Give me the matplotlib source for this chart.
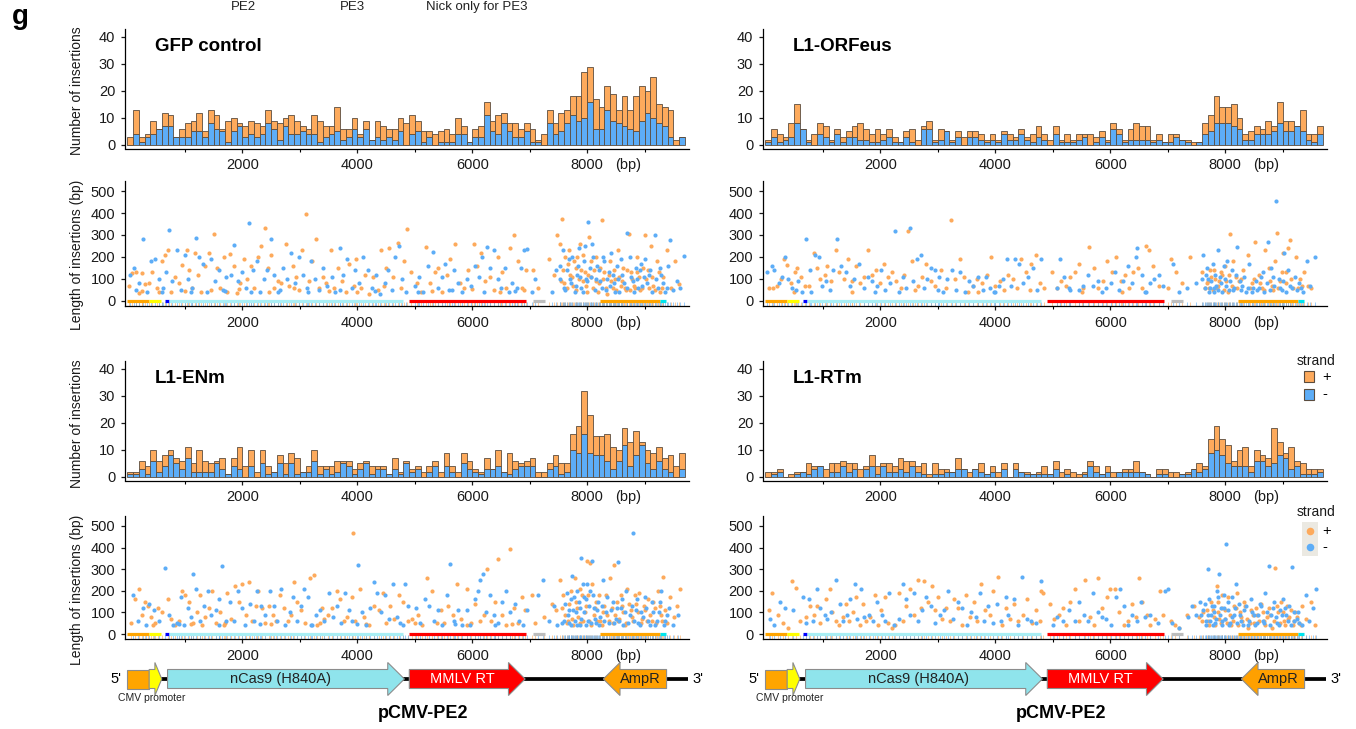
import numpy as np
import matplotlib.pyplot as plt
from matplotlib.patches import Polygon, Rectangle

plt.rcParams['font.family'] = ['Liberation Sans', 'DejaVu Sans']

W, H = 1356, 729

## 100bp bins, 0 ~ 9700
bin_left = np.arange(0, 9700, 100)

## insertion counts per bin (minus strand at the bottom, plus strand stacked on top)
gfp_minus = [0, 4, 1, 3, 4, 6, 7, 7, 3, 3,
             3, 5, 5, 3, 8, 6, 5, 1, 5, 7,
             3, 4, 3, 4, 8, 6, 2, 7, 4, 4,
             5, 4, 4, 1, 3, 4, 5, 2, 3, 6,
             3, 6, 2, 3, 2, 3, 2, 5, 0, 4,
             5, 1, 3, 0, 1, 1, 1, 4, 4, 1,
             3, 3, 11, 5, 4, 8, 5, 3, 3, 5,
             1, 1, 0, 8, 4, 5, 8, 11, 9, 10,
             16, 6, 6, 13, 9, 8, 7, 6, 5, 9,
             12, 10, 8, 7, 3, 0, 3]
gfp_plus = [3, 9, 2, 1, 5, 0, 5, 4, 0, 3,
            5, 4, 7, 2, 5, 5, 1, 8, 5, 1,
            4, 5, 5, 3, 5, 3, 6, 3, 7, 5,
            2, 2, 7, 8, 4, 3, 9, 4, 3, 4,
            1, 3, 0, 6, 5, 3, 4, 5, 8, 7,
            4, 4, 2, 4, 4, 5, 3, 6, 3, 0,
            3, 4, 5, 4, 7, 4, 3, 5, 3, 3,
            5, 1, 4, 5, 4, 7, 5, 7, 9, 17,
            13, 11, 8, 9, 10, 5, 11, 7, 13, 13,
            8, 15, 7, 7, 10, 2, 0]

orf_minus = [1, 3, 1, 2, 3, 8, 6, 1, 0, 4,
             3, 1, 4, 1, 3, 3, 2, 2, 1, 1,
             2, 3, 1, 1, 3, 1, 0, 6, 6, 1,
             2, 5, 1, 3, 0, 3, 3, 2, 1, 2,
             1, 4, 2, 2, 4, 2, 1, 3, 2, 0,
             4, 1, 1, 1, 2, 3, 0, 1, 3, 1,
             6, 4, 1, 2, 2, 2, 2, 1, 2, 1,
             1, 3, 2, 1, 0, 1, 4, 5, 8, 8,
             8, 7, 6, 2, 2, 4, 4, 4, 5, 8,
             5, 5, 7, 5, 2, 1, 4]
orf_plus = [1, 3, 3, 1, 5, 7, 0, 1, 4, 4,
            4, 1, 2, 2, 2, 4, 6, 4, 3, 5,
            2, 3, 2, 0, 2, 5, 2, 1, 3, 1,
            4, 0, 1, 2, 3, 2, 2, 2, 1, 2,
            1, 1, 2, 1, 2, 1, 3, 4, 2, 2,
            3, 1, 3, 1, 2, 1, 4, 2, 2, 1,
            2, 2, 1, 4, 6, 5, 5, 1, 2, 0,
            3, 1, 0, 1, 1, 0, 4, 6, 10, 6,
            6, 8, 4, 2, 3, 3, 2, 5, 2, 8,
            4, 4, 0, 8, 2, 3, 3]

enm_minus = [1, 1, 3, 1, 6, 2, 4, 8, 5, 3,
             7, 2, 2, 2, 2, 5, 3, 1, 4, 3,
             0, 4, 0, 5, 1, 2, 5, 1, 5, 1,
             2, 2, 6, 1, 3, 1, 2, 5, 4, 1,
             3, 5, 1, 3, 3, 1, 3, 1, 5, 2,
             3, 0, 2, 4, 0, 4, 2, 0, 5, 3,
             2, 1, 3, 3, 4, 2, 1, 3, 4, 4,
             4, 0, 0, 3, 4, 1, 2, 10, 9, 16,
             9, 8, 8, 6, 3, 6, 12, 4, 8, 12,
             5, 3, 6, 3, 2, 0, 3]
enm_plus = [1, 1, 3, 3, 4, 4, 4, 2, 2, 3,
            4, 3, 8, 4, 3, 1, 4, 0, 3, 8,
            4, 6, 2, 5, 3, 0, 3, 4, 4, 6,
            0, 2, 4, 3, 1, 3, 4, 1, 2, 2,
            2, 1, 3, 1, 1, 0, 4, 1, 1, 1,
            1, 2, 2, 2, 2, 5, 2, 2, 4, 3,
            1, 1, 4, 0, 6, 0, 8, 3, 1, 2,
            3, 2, 2, 2, 4, 4, 3, 6, 10, 16,
            14, 7, 7, 10, 8, 4, 6, 9, 9, 1,
            5, 6, 5, 4, 6, 4, 6]

rtm_minus = [0, 1, 2, 0, 0, 1, 2, 1, 3, 4,
             0, 2, 2, 4, 2, 3, 0, 3, 4, 1,
             4, 2, 2, 3, 2, 4, 2, 1, 0, 1,
             1, 2, 2, 3, 3, 0, 3, 2, 1, 2,
             0, 3, 0, 3, 2, 1, 1, 1, 1, 1,
             3, 0, 1, 0, 0, 1, 4, 2, 1, 2,
             0, 2, 2, 2, 2, 2, 1, 0, 1, 1,
             0, 0, 1, 1, 3, 2, 3, 9, 10, 8,
             5, 4, 4, 4, 2, 6, 6, 4, 5, 8,
             7, 3, 4, 1, 1, 1, 2]
rtm_plus = [2, 1, 1, 0, 1, 1, 0, 4, 1, 0,
            3, 3, 3, 2, 3, 2, 3, 1, 4, 3,
            1, 3, 2, 4, 4, 2, 2, 4, 1, 4,
            2, 1, 0, 4, 0, 2, 0, 3, 0, 2,
            2, 2, 0, 2, 0, 1, 0, 1, 3, 0,
            3, 2, 2, 2, 1, 1, 2, 2, 0, 2,
            2, 0, 1, 1, 4, 0, 0, 0, 2, 2,
            2, 2, 0, 1, 0, 3, 1, 5, 9, 6,
            7, 2, 6, 7, 2, 4, 2, 3, 13, 5,
            2, 8, 2, 4, 2, 2, 1]

## insertion position (bp) / insertion length (bp)
gfp_plus_pts = [(30,70),(90,125),(150,130),(200,35),(260,125),(310,75),(380,80),(430,130),(560,40),(600,180),
    (650,210),(700,230),(760,40),(830,110),(900,80),(950,165),(1030,230),(1080,140),(1130,60),(1180,220),
    (1230,120),(1290,40),(1350,160),(1420,220),(1500,305),(1560,150),(1610,60),(1680,200),(1730,40),(1790,215),
    (1850,160),(1900,35),(1960,80),(2030,190),(2090,100),(2150,160),(2210,60),(2280,200),(2330,250),(2390,333),
    (2440,150),(2500,210),(2560,60),(2620,90),(2680,80),(2760,260),(2820,70),(2880,160),(2940,110),(2980,50),
    (3040,230),(3100,395),(3160,90),(3220,180),(3290,280),(3330,60),(3400,110),(3460,80),(3540,230),(3600,60),
    (3660,150),(3740,90),(3800,40),(3860,170),(3940,70),(3980,190),(4060,60),(4140,120),(4200,30),(4280,110),
    (4360,50),(4420,230),(4500,150),(4560,240),(4620,110),(4700,265),(4760,60),(4820,180),(4870,328),(4930,130),
    (5040,80),(5100,40),(5200,245),(5260,80),(5350,130),(5410,150),(5480,40),(5560,120),(5620,190),(5700,260),
    (5780,80),(5850,60),(5930,140),(6030,260),(6090,160),(6150,220),(6230,90),(6300,110),(6380,50),(6440,200),
    (6520,130),(6590,60),(6660,240),(6720,298),(6790,180),(6860,60),(6930,140),(7060,140),(7150,60),(7330,190),
    (7420,120),(7480,300),(7520,260),(7560,375),(7600,80),(7660,170),(7700,120),(7760,70),(7800,150),(7830,200),
    (7880,260),(7920,90),(7960,130),(7990,40),(8030,290),(8070,110),(8100,60),(8150,200),(8210,80),(8250,368),
    (8300,130),(8350,30),(8400,180),(8440,60),(8480,100),(8530,230),(8580,70),(8630,150),(8680,50),(8720,305),
    (8760,130),(8810,70),(8860,200),(8900,110),(8950,60),(9010,300),(9060,140),(9110,250),(9150,70),(9210,180),
    (9260,40),(9320,110),(9380,230),(9450,60),(9530,180),(9600,75),
    (7540,90),(7580,140),(7620,200),(7650,60),(7690,230),(7730,110),(7770,180),(7810,50),(7850,100),(7890,140),
    (7930,210),(7970,70),(8010,120),(8060,180),(8110,140),(8160,90),(8190,40),(8230,150),(8280,100),(8330,60),
    (8380,120),(8420,90),(8460,140),(8500,50),(8550,110),(8600,90),(8650,60),(8700,140),(8740,50),(8780,100),
    (8830,60),(8870,130),(8920,50),(8970,150),(9030,100),(9080,60),(9130,110),(9180,50),(9240,130),(9300,60),
    (250,45),(520,60),(1000,45),(1450,50),(1950,55),(2460,40),(2900,60),(3500,45),(4000,40),(4460,70),
    (5300,45),(6000,55),(6480,40),(6900,50)]
gfp_minus_pts = [(40,120),(110,150),(200,80),(280,283),(340,40),(420,180),(480,190),(560,100),(620,60),(680,130),
    (720,322),(780,90),(860,230),(940,50),(1010,210),(1060,100),(1120,60),(1200,285),(1250,200),(1320,170),
    (1390,40),(1450,190),(1530,90),(1600,140),(1660,50),(1720,110),(1800,120),(1860,255),(1930,90),(2000,130),
    (2060,60),(2116,355),(2180,140),(2250,180),(2300,40),(2370,100),(2430,140),(2500,283),(2560,120),(2620,40),
    (2700,150),(2780,100),(2850,220),(2920,80),(2980,200),(3050,120),(3120,60),(3190,180),(3260,100),(3340,50),
    (3410,150),(3480,70),(3560,110),(3620,40),(3700,240),(3760,120),(3830,190),(3900,60),(3960,140),(4030,80),
    (4100,200),(4180,140),(4250,60),(4330,120),(4400,30),(4480,80),(4540,140),(4600,50),(4660,200),(4720,248),
    (4780,100),(4850,40),(5010,70),(5080,110),(5150,40),(5230,160),(5325,223),(5400,60),(5470,110),(5530,170),
    (5600,50),(5680,140),(5750,80),(5820,40),(5900,100),(5970,70),(6050,160),(6110,110),(6170,200),(6248,244),
    (6310,150),(6370,230),(6450,100),(6500,60),(6570,150),(6640,40),(6700,80),(6780,60),(6850,150),(6900,230),
    (6958,236),(7040,40),(7100,100),(7380,40),(7450,140),(7520,100),(7570,230),(7620,50),(7680,190),(7720,80),
    (7780,40),(7820,120),(7860,240),(7900,60),(7940,180),(7980,100),(8009,358),(8040,150),(8090,260),(8130,50),
    (8170,160),(8220,90),(8270,200),(8320,50),(8370,130),(8420,220),(8460,80),(8510,160),(8560,40),(8610,120),
    (8683,309),(8740,200),(8790,90),(8840,150),(8880,60),(8930,170),(8980,110),(9040,80),(9100,140),(9173,300),
    (9230,60),(9290,120),(9350,40),(9410,160),(9443,278),(9500,50),(9560,90),(9620,60),(9684,205),
    (7530,160),(7590,60),(7640,140),(7700,100),(7740,200),(7800,70),(7840,160),(7880,110),(7920,40),(7960,250),
    (8000,90),(8060,110),(8100,200),(8150,100),(8200,140),(8250,60),(8300,180),(8350,100),(8400,70),(8450,120),
    (8490,40),(8540,100),(8590,190),(8640,80),(8700,60),(8760,110),(8810,40),(8860,100),(8910,140),(8960,70),
    (9010,190),(9070,120),(9120,40),(9200,100),(9260,150),(9320,80),(9380,60),
    (150,50),(600,40),(1100,40),(1700,45),(2150,40),(2650,50),(3150,40),(3700,50),(4300,45),(5050,40),
    (5650,50),(6200,40),(6750,45)]

orf_plus_pts = [(60,60),(130,60),(200,70),(270,100),(320,190),(370,165),(440,80),(510,130),(560,150),(620,110),
    (690,70),(760,70),(850,220),(900,150),(960,100),(1030,120),(1080,160),(1150,90),(1230,230),(1290,130),
    (1370,100),(1440,190),(1510,90),(1580,160),(1650,80),(1710,110),(1780,230),(1850,120),(1920,140),(1990,80),
    (2060,170),(2130,110),(2200,130),(2280,90),(2360,60),(2420,120),(2490,320),(2560,180),(2650,70),(2730,110),
    (2800,170),(2880,90),(2960,70),(3050,140),(3150,60),(3227,369),(3300,100),(3380,190),(3450,110),(3530,40),
    (3610,70),(3690,100),(3770,80),(3860,120),(3930,200),(4000,70),(4080,90),(4150,50),(4220,120),(4300,100),
    (4380,60),(4450,190),(4530,130),(4620,170),(4700,210),(4770,80),(4850,60),(4990,130),(5070,60),(5150,90),
    (5230,70),(5300,110),(5380,130),(5450,170),(5530,60),(5630,245),(5710,150),(5790,60),(5870,90),(5950,180),
    (6030,130),(6100,200),(6180,90),(6260,120),(6330,60),(6400,130),(6480,150),(6550,60),(6620,250),(6680,230),
    (6750,160),(6850,70),(7010,60),(7060,190),(7150,130),(7250,80),(7380,200),(7600,130),(7680,80),(7720,60),
    (7760,110),(7800,140),(7850,60),(7900,90),(7950,120),(8000,160),(8050,40),(8090,305),(8140,180),(8180,110),
    (8240,90),(8310,140),(8390,210),(8460,80),(8520,270),(8580,120),(8640,60),(8700,230),(8760,150),(8810,70),
    (8860,180),(8900,310),(8950,90),(9000,220),(9060,130),(9100,240),(9130,275),(9180,60),(9230,200),(9300,100),
    (9370,130),(9440,70),(9500,60),
    (7640,60),(7700,90),(7740,140),(7790,50),(7830,100),(7870,70),(7920,130),(7970,50),(8020,90),(8070,120),
    (8120,70),(8200,60),(8280,100),(8430,60),(8500,100),(8600,80),(8680,50),(8780,90),(8830,50),(8920,60),
    (8980,130),(9050,80),(9150,100),(9260,60),(9340,70),
    (500,40),(1500,40),(2600,50),(3700,40),(4600,50),(5500,40),(6200,40)]
orf_minus_pts = [(30,130),(110,160),(160,140),(230,80),(290,110),(340,200),(400,100),(470,60),(530,50),(570,90),
    (630,40),(710,280),(780,140),(860,210),(930,200),(990,70),(1060,90),(1120,50),(1180,140),(1240,280),
    (1320,160),(1400,130),(1480,70),(1550,100),(1630,170),(1710,60),(1790,110),(1860,90),(1940,70),(2010,140),
    (2080,50),(2170,80),(2250,318),(2330,40),(2400,110),(2450,60),(2513,334),(2570,90),(2630,190),(2700,210),
    (2760,60),(2820,100),(2880,150),(2950,140),(3020,110),(3090,40),(3160,100),(3250,140),(3320,50),(3390,130),
    (3470,40),(3550,90),(3620,70),(3700,110),(3780,50),(3840,110),(3910,60),(3980,40),(4060,70),(4140,100),
    (4210,190),(4270,70),(4340,190),(4420,170),(4490,80),(4570,110),(4650,150),(4730,50),(4800,190),(5070,60),
    (5120,190),(5200,110),(5280,60),(5450,50),(5520,70),(5610,120),(5700,70),(5780,90),(5850,40),(5930,60),
    (6010,80),(6080,130),(6150,50),(6230,90),(6300,160),(6370,80),(6440,200),(6470,243),(6550,120),(6630,40),
    (6700,80),(6760,100),(6850,120),(6920,70),(7100,170),(7200,40),(7330,60),(7500,80),(7620,210),(7660,120),
    (7700,100),(7740,60),(7780,170),(7810,40),(7840,70),(7870,230),(7910,110),(7950,40),(7990,100),(8030,180),
    (8060,50),(8110,140),(8160,60),(8210,245),(8250,90),(8300,70),(8360,40),(8420,170),(8490,60),(8560,50),
    (8620,110),(8680,40),(8740,270),(8800,150),(8850,70),(8887,455),(8930,100),(8980,50),(9030,220),(9090,140),
    (9160,60),(9210,110),(9280,80),(9350,40),(9420,180),(9480,70),(9560,200),
    (7600,100),(7650,60),(7690,150),(7720,40),(7760,90),(7800,60),(7830,120),(7880,50),(7930,80),(7970,160),
    (8010,70),(8080,90),(8130,50),(8190,120),(8270,50),(8330,110),(8400,60),(8460,40),(8530,90),(8590,60),
    (8660,130),(8720,80),(8780,50),(8830,110),(8950,60),(9000,90),(9060,40),(9130,70),(9250,50),(9310,60),
    (800,40),(1900,40),(3000,50),(4000,40),(5300,50),(6600,40)]

enm_plus_pts = [(60,50),(130,160),(200,210),(260,90),(300,150),(360,130),(420,80),(480,50),(530,120),(600,100),
    (700,160),(760,70),(830,40),(900,60),(950,200),(1010,180),(1080,150),(1150,50),(1220,100),(1260,180),
    (1300,40),(1360,80),(1420,120),(1480,200),(1550,50),(1620,100),(1680,40),(1740,190),(1800,70),(1880,220),
    (1940,150),(2000,230),(2060,90),(2110,240),(2170,60),(2230,130),(2280,200),(2340,120),(2400,50),(2470,130),
    (2530,90),(2590,60),(2650,180),(2720,120),(2790,60),(2850,90),(2900,240),(2960,150),(3020,110),(3090,50),
    (3170,260),(3240,275),(3300,40),(3380,120),(3430,70),(3490,90),(3560,120),(3640,200),(3700,160),(3770,60),
    (3830,80),(3900,170),(3920,468),(3960,60),(4050,210),(4120,80),(4200,40),(4290,130),(4370,110),(4440,190),
    (4500,50),(4570,130),(4640,70),(4730,180),(4800,150),(4880,60),(4960,70),(5050,90),(5130,40),(5220,260),
    (5300,200),(5380,50),(5450,110),(5510,50),(5580,130),(5660,90),(5730,230),(5810,70),(5900,210),(5980,50),
    (6050,140),(6130,60),(6200,90),(6250,300),(6320,60),(6400,150),(6453,346),(6520,90),(6580,40),(6653,394),
    (6720,120),(6790,50),(6860,170),(6910,110),(7040,180),(7100,50),(7250,80),(7380,140),(7460,110),(7520,250),
    (7580,180),(7640,50),(7690,140),(7730,70),(7780,260),(7830,120),(7870,50),(7910,180),(7960,100),(8000,340),
    (8030,60),(8050,330),(8090,230),(8130,120),(8170,60),(8210,180),(8260,40),(8300,130),(8350,90),(8400,260),
    (8440,50),(8470,320),(8510,150),(8550,70),(8600,130),(8650,40),(8700,210),(8760,110),(8800,60),(8850,140),
    (8900,190),(8950,70),(9000,110),(9060,160),(9120,60),(9180,120),(9230,200),(9280,90),(9320,262),(9380,50),
    (9440,170),(9510,80),(9560,130),(9620,210),
    (7560,120),(7620,90),(7670,60),(7710,200),(7750,40),(7800,150),(7840,80),(7880,210),(7930,60),(7980,130),
    (8020,180),(8070,40),(8110,90),(8160,150),(8230,60),(8280,100),(8330,180),(8380,60),(8430,120),(8490,90),
    (8540,60),(8580,180),(8630,100),(8680,50),(8730,140),(8780,80),(8830,180),(8880,100),(8930,50),(8980,130),
    (9040,60),(9100,90),(9150,150),(9200,50),(9260,130),(9300,60),(9360,110),
    (450,40),(1100,45),(1700,50),(2500,45),(3350,50),(4150,45),(5000,50),(5900,40),(6700,45)]
enm_minus_pts = [(100,180),(190,60),(280,120),(380,140),(470,110),(560,60),(660,305),(720,90),(790,40),(860,50),
    (930,170),(980,40),(1050,120),(1110,80),(1150,280),(1200,210),(1270,60),(1330,130),(1400,200),(1460,90),
    (1540,110),(1600,160),(1647,313),(1710,60),(1780,150),(1850,60),(1920,200),(1990,120),(2050,40),(2130,140),
    (2200,60),(2260,200),(2330,130),(2400,90),(2480,200),(2550,130),(2600,60),(2680,210),(2750,40),(2830,100),
    (2880,170),(2950,60),(3020,130),(3080,210),(3150,170),(3220,40),(3290,90),(3360,110),(3430,60),(3500,190),
    (3570,80),(3640,130),(3710,50),(3780,190),(3850,110),(3910,60),(4020,321),(4080,100),(4150,40),(4230,120),
    (4290,240),(4350,190),(4420,100),(4490,180),(4560,70),(4620,230),(4690,80),(4750,50),(4830,230),(4880,130),
    (5020,120),(5090,50),(5170,160),(5250,130),(5330,60),(5400,110),(5480,40),(5560,180),(5620,322),(5680,60),
    (5750,110),(5830,40),(5900,110),(5960,40),(6040,160),(6100,200),(6130,250),(6180,280),(6240,100),(6300,180),
    (6380,90),(6450,50),(6520,150),(6590,200),(6660,100),(6740,140),(6820,60),(6880,40),(6950,110),(7150,180),
    (7230,250),(7330,60),(7420,130),(7480,40),(7560,50),(7620,140),(7660,90),(7690,50),(7720,160),(7740,270),
    (7760,110),(7790,60),(7820,200),(7850,150),(7880,40),(7900,350),(7920,230),(7950,100),(7980,160),(8010,60),
    (8040,200),(8080,340),(8110,120),(8150,50),(8190,150),(8230,80),(8280,250),(8330,100),(8380,50),(8440,150),
    (8500,70),(8540,333),(8580,120),(8620,40),(8680,200),(8740,90),(8800,468),(8840,110),(8880,50),(8940,100),
    (9000,170),(9060,60),(9120,150),(9180,40),(9240,100),(9290,200),(9350,60),(9420,120),(9500,40),(9580,90),
    (7600,60),(7640,190),(7680,110),(7710,40),(7770,170),(7800,100),(7830,40),(7870,120),(7900,70),(7940,170),
    (7970,40),(8000,230),(8030,130),(8060,50),(8100,180),(8130,70),(8170,110),(8210,40),(8250,130),(8300,60),
    (8350,170),(8410,110),(8460,50),(8520,120),(8560,60),(8600,160),(8650,100),(8710,50),(8770,130),(8820,60),
    (8860,160),(8910,40),(8970,80),(9030,120),(9090,40),(9150,100),(9210,60),(9270,150),(9330,40),(9390,90),
    (320,40),(900,45),(1600,40),(2300,45),(3200,40),(4000,45),(4800,40),(5700,45),(6400,40)]

rtm_plus_pts = [(60,110),(120,190),(220,90),(300,50),(400,30),(460,246),(540,215),(600,60),(700,80),(780,130),
    (840,90),(900,130),(960,50),(1050,160),(1120,210),(1160,100),(1230,60),(1290,40),(1350,80),(1400,140),
    (1460,60),(1530,100),(1580,170),(1640,40),(1700,140),(1760,60),(1820,80),(1900,180),(1960,40),(2020,110),
    (2090,170),(2140,50),(2200,30),(2260,40),(2330,190),(2390,60),(2450,130),(2520,210),(2590,90),(2650,250),
    (2700,120),(2760,245),(2830,150),(2900,220),(2950,110),(3010,170),(3080,70),(3150,120),(3220,60),(3290,160),
    (3350,120),(3420,40),(3490,180),(3560,80),(3630,150),(3690,60),(3760,230),(3830,110),(3900,90),(3960,200),
    (4053,266),(4110,40),(4180,120),(4250,70),(4330,140),(4400,60),(4480,90),(4560,160),(4640,50),(4700,110),
    (4780,60),(4800,200),(4830,190),(4960,140),(5020,70),(5100,90),(5170,120),(5230,40),(5300,150),(5390,210),
    (5460,60),(5560,250),(5640,80),(5720,40),(5780,260),(5860,120),(5940,170),(6000,210),(6080,210),(6160,100),
    (6240,40),(6300,60),(6380,140),(6450,80),(6500,260),(6560,150),(6640,90),(6700,40),(6780,70),(6860,200),
    (6920,90),(7050,60),(7130,40),(7200,30),(7330,90),(7460,130),(7540,80),(7600,60),(7680,110),(7720,40),
    (7760,150),(7800,80),(7850,220),(7880,100),(7920,50),(7950,120),(8000,70),(8050,170),(8100,40),(8150,130),
    (8200,190),(8260,100),(8300,60),(8350,130),(8400,30),(8450,110),(8500,50),(8560,90),(8620,140),(8680,60),
    (8720,80),(8760,120),(8820,30),(8870,305),(8920,100),(8970,150),(9020,60),(9070,130),(9110,80),(9170,40),
    (9220,100),(9280,50),(9340,130),(9400,70),(9500,150),(9560,40),
    (7620,100),(7700,60),(7780,110),(7830,40),(7870,150),(7900,70),(7940,180),(7990,110),(8030,50),(8080,90),
    (8130,60),(8180,120),(8230,40),(8280,80),(8320,150),(8380,70),(8430,50),(8480,90),(8530,120),(8580,60),
    (8650,100),(8700,40),(8780,90),(8840,60),(8900,130),(8950,50),(9000,100),(9040,40),(9090,70),(9150,110),
    (9200,60),(9250,80),(9310,40)]
rtm_minus_pts = [(80,70),(160,40),(260,150),(350,120),(480,110),(650,170),(700,50),(760,160),(830,60),(900,210),
    (960,120),(1030,90),(1080,70),(1150,100),(1230,250),(1300,140),(1350,60),(1420,90),(1480,160),(1560,230),
    (1600,70),(1660,210),(1720,80),(1800,90),(1880,60),(1950,150),(2030,90),(2080,60),(2160,190),(2240,40),
    (2330,70),(2400,230),(2440,160),(2510,90),(2580,190),(2660,60),(2720,110),(2800,170),(2880,130),(2950,50),
    (3030,90),(3100,110),(3180,200),(3260,70),(3350,150),(3420,120),(3500,40),(3570,100),(3660,80),(3740,190),
    (3810,60),(3880,130),(3960,50),(4030,140),(4100,60),(4180,170),(4230,90),(4320,160),(4400,40),(4467,262),
    (4550,70),(4620,60),(4700,50),(4787,246),(5010,40),(5080,80),(5170,60),(5290,110),(5380,60),(5460,150),
    (5540,90),(5620,60),(5700,190),(5780,100),(5850,80),(5930,70),(6010,40),(6100,170),(6170,210),(6240,130),
    (6310,40),(6380,90),(6460,60),(6540,150),(6610,80),(6700,90),(6830,50),(6960,200),(7000,210),(7080,50),
    (7200,30),(7350,80),(7420,130),(7500,90),(7560,150),(7620,110),(7660,60),(7693,300),(7720,160),(7750,90),
    (7780,40),(7810,130),(7840,70),(7860,200),(7893,277),(7920,120),(7950,60),(7980,180),(8020,418),(8050,110),
    (8080,50),(8110,170),(8150,90),(8190,230),(8240,140),(8280,60),(8330,110),(8390,40),(8440,160),(8500,90),
    (8550,50),(8600,140),(8650,60),(8700,190),(8760,316),(8800,90),(8850,150),(8900,50),(8950,110),(9010,160),
    (9060,90),(9110,130),(9153,311),(9200,60),(9260,100),(9330,40),(9400,180),(9460,60),(9520,120),(9580,210),
    (7580,90),(7640,140),(7670,40),(7700,90),(7740,60),(7770,130),(7800,100),(7830,50),(7870,170),(7910,90),
    (7940,40),(7970,120),(8000,70),(8040,150),(8070,40),(8120,80),(8170,120),(8210,50),(8260,90),(8310,40),
    (8360,130),(8420,60),(8470,100),(8520,40),(8570,90),(8620,130),(8680,50),(8730,100),(8780,40),(8830,120),
    (8880,80),(8930,40),(8990,90),(9040,120),(9090,60),(9140,40),(9190,100),(9240,70),(9290,50)]

## feature bar drawn at length 0 (start, end, colour)
features = [(0, 370, '#FFA500'), (380, 580, '#FFFF00'), (660, 720, '#0000FF'),
            (730, 4800, '#A8EEF4'), (4900, 6930, '#FF0000'), (7050, 7270, '#BDBDBD'),
            (8220, 9260, '#FFA500'), (9260, 9370, '#00E5EE')]

## pCMV-PE2 map parts (kind, start, end, colour, label, label colour)
parts = [('right', 380, 600, '#FFFF00', '', 'k'),
         ('right', 700, 4820, '#8FE4EC', 'nCas9 (H840A)', '#222222'),
         ('right', 4905, 6920, '#FF0000', 'MMLV RT', 'white'),
         ('left', 8280, 9380, '#FFA000', 'AmpR', '#222222')]

orange = '#FDAA5C'
blue = '#5DADF7'
edge = '#5b4c3e'
XMIN, XMAX = -40, 9770


def rect(x0, top, bottom):
    return [x0 / W, 1 - bottom / H, 564 / W, (bottom - top) / H]


def style(ax, yticks, ylim):
    ax.set_xlim(XMIN, XMAX)
    ax.set_ylim(*ylim)
    for s in ['top', 'right']:
        ax.spines[s].set_visible(False)
    for s in ['left', 'bottom']:
        ax.spines[s].set_linewidth(0.9)
    ax.set_yticks(yticks)
    ax.set_xticks([2000, 4000, 6000, 8000])
    ax.set_xticks([1000, 3000, 5000, 7000, 9000], minor=True)
    ax.tick_params(labelsize=10.5, length=3, pad=4, width=0.9, colors='#1a1a1a')
    ax.tick_params(axis='x', which='minor', length=2, width=0.8)
    ax.annotate('(bp)', xy=(8000, 0), xycoords=('data', 'axes fraction'),
                xytext=(20, -7), textcoords='offset points', ha='left', va='top',
                fontsize=10.5, color='#1a1a1a')


def hist_panel(ax, minus, plus, title):
    ax.bar(bin_left, minus, width=100, align='edge', color=blue, edgecolor=edge, linewidth=0.6)
    ax.bar(bin_left, plus, bottom=minus, width=100, align='edge', color=orange, edgecolor=edge, linewidth=0.6)
    style(ax, [0, 10, 20, 30, 40], (-1.3, 43))
    ax.text(0.053, 0.85, title, transform=ax.transAxes, fontsize=13.5, fontweight='bold', va='center')


def scatter_panel(ax, plus_pts, minus_pts):
    pp = np.array(plus_pts).T
    mp = np.array(minus_pts).T
    # rug under the feature bar
    ax.vlines(pp[0], -21, -6, colors=orange, lw=0.6, alpha=0.7)
    ax.vlines(mp[0], -21, -6, colors=blue, lw=0.6, alpha=0.7)
    for s, e, c in features:
        ax.plot([s, e], [0, 0], color=c, lw=2.3, solid_capstyle='butt')
    ax.scatter(pp[0], pp[1], s=9, color=orange, lw=0, zorder=3)
    ax.scatter(mp[0], mp[1], s=9, color=blue, lw=0, zorder=3)
    style(ax, [0, 100, 200, 300, 400, 500], (-23, 547))


def arrow_xy(kind, x0, x1, head, yc=679, bh=9.5, hh=16.5):
    if kind == 'right':
        return [(x0, yc - bh), (x1 - head, yc - bh), (x1 - head, yc - hh), (x1, yc),
                (x1 - head, yc + hh), (x1 - head, yc + bh), (x0, yc + bh)]
    return [(x1, yc - bh), (x0 + head, yc - bh), (x0 + head, yc - hh), (x0, yc),
            (x0 + head, yc + hh), (x0 + head, yc + bh), (x1, yc + bh)]


def map_panel(ax):
    ax.set_xlim(XMIN, XMAX)
    ax.set_ylim(729, 650)
    ax.axis('off')
    ax.plot([380, 9750], [679, 679], color='black', lw=2.7, zorder=1, solid_capstyle='butt')
    ax.add_patch(Rectangle((0, 669.5), 380, 19, fc='#FFA500', ec='#8c8c8c', lw=0.8, zorder=2))
    for kind, s, e, c, label, lc in parts:
        head = 120 if e - s < 400 else 290
        ax.add_patch(Polygon(arrow_xy(kind, s, e, head), closed=True, fc=c, ec='#8c8c8c', lw=0.8, zorder=2))
        if label:
            ax.text((s + e) / 2 + (90 if kind == 'left' else -90), 679, label, ha='center', va='center',
                    fontsize=10.5, color=lc, zorder=3)
    ax.text(-110, 679, "5'", ha='right', va='center', fontsize=10.5, clip_on=False)
    ax.text(9830, 679, "3'", ha='left', va='center', fontsize=10.5, clip_on=False)
    ax.text(420, 698, 'CMV promoter', ha='center', va='center', fontsize=7.5, color='#222222')
    ax.text(5150, 714, 'pCMV-PE2', ha='center', va='center', fontsize=13, fontweight='bold')


fig = plt.figure(figsize=(W / 100, H / 100), dpi=100)

hist_panel(fig.add_axes(rect(125, 28.9, 148.5)), gfp_minus, gfp_plus, 'GFP control')
hist_panel(fig.add_axes(rect(763, 28.9, 148.5)), orf_minus, orf_plus, 'L1-ORFeus')
scatter_panel(fig.add_axes(rect(125, 180.7, 306)), gfp_plus_pts, gfp_minus_pts)
scatter_panel(fig.add_axes(rect(763, 180.7, 306)), orf_plus_pts, orf_minus_pts)
hist_panel(fig.add_axes(rect(125, 360.9, 480.5)), enm_minus, enm_plus, 'L1-ENm')
hist_panel(fig.add_axes(rect(763, 360.9, 480.5)), rtm_minus, rtm_plus, 'L1-RTm')
scatter_panel(fig.add_axes(rect(125, 515.8, 639)), enm_plus_pts, enm_minus_pts)
scatter_panel(fig.add_axes(rect(763, 515.8, 639)), rtm_plus_pts, rtm_minus_pts)
map_panel(fig.add_axes(rect(125, 650, 729)))
map_panel(fig.add_axes(rect(763, 650, 729)))

## overlay in pixel coordinates for labels and legends
ov = fig.add_axes([0, 0, 1, 1])
ov.set_xlim(0, W)
ov.set_ylim(H, 0)
ov.axis('off')

ov.text(12, 24, 'g', fontsize=20, fontweight='bold', va='baseline')
for xc, lab in [(243, 'PE2'), (352, 'PE3'), (477, 'Nick only for PE3')]:
    ov.text(xc, 10, lab, fontsize=9.5, ha='center', va='baseline', color='#222222')

for yc, lab in [(91, 'Number of insertions'), (255, 'Length of insertions (bp)'),
                (424, 'Number of insertions'), (590, 'Length of insertions (bp)')]:
    ov.text(77, yc, lab, rotation=90, ha='center', va='center', fontsize=10, color='#1a1a1a')

## bar legend
ov.text(1316, 361, 'strand', ha='center', va='center', fontsize=10, color='#1a1a1a')
ov.add_patch(Rectangle((1304, 371), 10, 11, fc=orange, ec=edge, lw=0.8))
ov.add_patch(Rectangle((1304, 389), 10, 11, fc=blue, ec=edge, lw=0.8))
ov.text(1322, 377, '+', ha='left', va='center', fontsize=10.5)
ov.text(1322, 394, '-', ha='left', va='center', fontsize=10.5)

## point legend
ov.text(1316, 512, 'strand', ha='center', va='center', fontsize=10, color='#1a1a1a')
ov.add_patch(Rectangle((1302, 522), 16, 34, fc='#EBE9E2', ec='none'))
ov.scatter([1310], [531], s=30, color=orange, lw=0)
ov.scatter([1310], [547], s=30, color=blue, lw=0)
ov.text(1322, 531, '+', ha='left', va='center', fontsize=10.5)
ov.text(1322, 547, '-', ha='left', va='center', fontsize=10.5)

fig.savefig('out.png', dpi=100)
